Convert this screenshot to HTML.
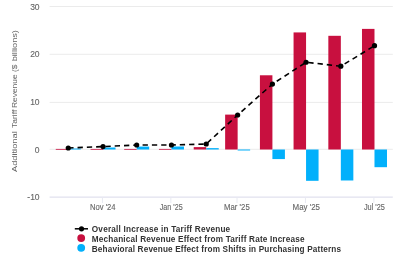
<!DOCTYPE html>
<html><head><meta charset="utf-8"><style>
html,body{margin:0;padding:0;background:#fff;width:400px;height:267px;overflow:hidden}
svg{display:block;will-change:transform}
text{font-family:"Liberation Sans",sans-serif}
.ax{font-size:8.5px;fill:#666;stroke:#666;stroke-width:0.12px}
.yt{font-size:8.0px;fill:#666}
.lg{font-size:8.2px;font-weight:bold;fill:#333}
</style></head><body>
<svg width="400" height="267" viewBox="0 0 400 267">
<rect width="400" height="267" fill="#fff"/>
<line x1="49.6" x2="392.8" y1="6.5" y2="6.5" stroke="#ebebeb" stroke-width="1"/>
<line x1="49.6" x2="392.8" y1="54.3" y2="54.3" stroke="#ebebeb" stroke-width="1"/>
<line x1="49.6" x2="392.8" y1="102.4" y2="102.4" stroke="#ebebeb" stroke-width="1"/>
<line x1="49.6" x2="392.8" y1="149.3" y2="149.3" stroke="#ebebeb" stroke-width="1"/>
<line x1="49.6" x2="392.8" y1="197.1" y2="197.1" stroke="#d9d9ea" stroke-width="1"/>
<line x1="102.43" x2="102.43" y1="197.5" y2="203" stroke="#e8eaf2" stroke-width="1"/>
<line x1="170.86" x2="170.86" y1="197.5" y2="203" stroke="#e8eaf2" stroke-width="1"/>
<line x1="237.04" x2="237.04" y1="197.5" y2="203" stroke="#e8eaf2" stroke-width="1"/>
<line x1="305.46" x2="305.46" y1="197.5" y2="203" stroke="#e8eaf2" stroke-width="1"/>
<line x1="373.89" x2="373.89" y1="197.5" y2="203" stroke="#e8eaf2" stroke-width="1"/>
<text x="39.6" y="9.90" class="ax" text-anchor="end">30</text>
<text x="39.6" y="57.10" class="ax" text-anchor="end">20</text>
<text x="39.6" y="105.10" class="ax" text-anchor="end">10</text>
<text x="39.6" y="152.50" class="ax" text-anchor="end">0</text>
<text x="39.6" y="199.80" class="ax" text-anchor="end">-10</text>
<text id="x1" x="89.98" y="209.80" class="ax" textLength="25.62" lengthAdjust="spacingAndGlyphs">Nov &#39;24</text>
<text id="x3" x="159.80" y="209.80" class="ax" textLength="22.85" lengthAdjust="spacingAndGlyphs">Jan &#39;25</text>
<text id="x5" x="224.09" y="209.80" class="ax" textLength="25.67" lengthAdjust="spacingAndGlyphs">Mar &#39;25</text>
<text id="x7" x="292.56" y="209.80" class="ax" textLength="27.47" lengthAdjust="spacingAndGlyphs">May &#39;25</text>
<text id="x9" x="363.89" y="209.80" class="ax" textLength="21.02" lengthAdjust="spacingAndGlyphs">Jul &#39;25</text>
<text id="yt0" transform="translate(17.3,172.00) rotate(-90)" x="0" y="0" class="yt" textLength="40.71" lengthAdjust="spacingAndGlyphs">Additional</text>
<text id="yt1" transform="translate(17.3,128.09) rotate(-90)" x="0" y="0" class="yt" textLength="18.37" lengthAdjust="spacingAndGlyphs">Tariff</text>
<text id="yt2" transform="translate(17.3,108.06) rotate(-90)" x="0" y="0" class="yt" textLength="33.64" lengthAdjust="spacingAndGlyphs">Revenue</text>
<text id="yt3" transform="translate(17.3,72.08) rotate(-90)" x="0" y="0" class="yt" textLength="7.42" lengthAdjust="spacingAndGlyphs">($</text>
<text id="yt4" transform="translate(17.3,61.31) rotate(-90)" x="0" y="0" class="yt" textLength="31.24" lengthAdjust="spacingAndGlyphs">billions)</text>
<rect x="55.76" y="148.90" width="12.5" height="1.0" fill="#c8103f" opacity="0.8"/>
<rect x="68.26" y="148.50" width="12.5" height="1.00" fill="#02b0fb"/>
<rect x="90.53" y="148.90" width="12.5" height="1.0" fill="#c8103f" opacity="0.8"/>
<rect x="103.03" y="147.50" width="12.5" height="2.00" fill="#02b0fb"/>
<rect x="124.18" y="148.90" width="12.5" height="1.0" fill="#c8103f" opacity="0.8"/>
<rect x="136.68" y="146.59" width="12.5" height="2.91" fill="#02b0fb"/>
<rect x="158.96" y="148.90" width="12.5" height="1.0" fill="#c8103f" opacity="0.8"/>
<rect x="171.46" y="146.50" width="12.5" height="3.00" fill="#02b0fb"/>
<rect x="193.73" y="147.12" width="12.5" height="2.38" fill="#c8103f"/>
<rect x="206.23" y="148.12" width="12.5" height="1.38" fill="#02b0fb"/>
<rect x="225.14" y="114.61" width="12.5" height="34.89" fill="#c8103f"/>
<rect x="237.64" y="149.50" width="12.5" height="1.00" fill="#02b0fb"/>
<rect x="259.91" y="75.28" width="12.5" height="74.22" fill="#c8103f"/>
<rect x="272.41" y="149.50" width="12.5" height="9.58" fill="#02b0fb"/>
<rect x="293.56" y="32.42" width="12.5" height="117.08" fill="#c8103f"/>
<rect x="306.06" y="149.50" width="12.5" height="31.32" fill="#02b0fb"/>
<rect x="328.34" y="35.81" width="12.5" height="113.69" fill="#c8103f"/>
<rect x="340.84" y="149.50" width="12.5" height="30.99" fill="#02b0fb"/>
<rect x="361.99" y="28.89" width="12.5" height="120.61" fill="#c8103f"/>
<rect x="374.49" y="149.50" width="12.5" height="17.69" fill="#02b0fb"/>
<polyline points="68.26,148.02 103.03,146.59 136.68,145.02 171.46,145.02 206.23,144.02 237.64,114.99 272.41,84.10 306.06,62.26 340.84,66.22 374.49,45.72" fill="none" stroke="#000" stroke-width="1.6" stroke-dasharray="5.3,4"/>
<circle cx="68.26" cy="148.02" r="2.6" fill="#000"/>
<circle cx="103.03" cy="146.59" r="2.6" fill="#000"/>
<circle cx="136.68" cy="145.02" r="2.6" fill="#000"/>
<circle cx="171.46" cy="145.02" r="2.6" fill="#000"/>
<circle cx="206.23" cy="144.02" r="2.6" fill="#000"/>
<circle cx="237.64" cy="114.99" r="2.6" fill="#000"/>
<circle cx="272.41" cy="84.10" r="2.6" fill="#000"/>
<circle cx="306.06" cy="62.26" r="2.6" fill="#000"/>
<circle cx="340.84" cy="66.22" r="2.6" fill="#000"/>
<circle cx="374.49" cy="45.72" r="2.6" fill="#000"/>
<line x1="74.8" x2="88" y1="228.8" y2="228.8" stroke="#000" stroke-width="1.5"/>
<circle cx="81.5" cy="228.8" r="2.6" fill="#000"/>
<circle cx="81.2" cy="238.1" r="3.9" fill="#c8103f"/>
<circle cx="81.2" cy="247.8" r="3.9" fill="#02b0fb"/>
<text id="l1" x="91.79" y="232.00" class="lg" textLength="138.39" lengthAdjust="spacing">Overall Increase in Tariff Revenue</text>
<text id="l2" x="91.79" y="242.00" class="lg" textLength="212.70" lengthAdjust="spacing">Mechanical Revenue Effect from Tariff Rate Increase</text>
<text id="l3" x="91.79" y="252.10" class="lg" textLength="249.25" lengthAdjust="spacing">Behavioral Revenue Effect from Shifts in Purchasing Patterns</text>
</svg></body></html>
